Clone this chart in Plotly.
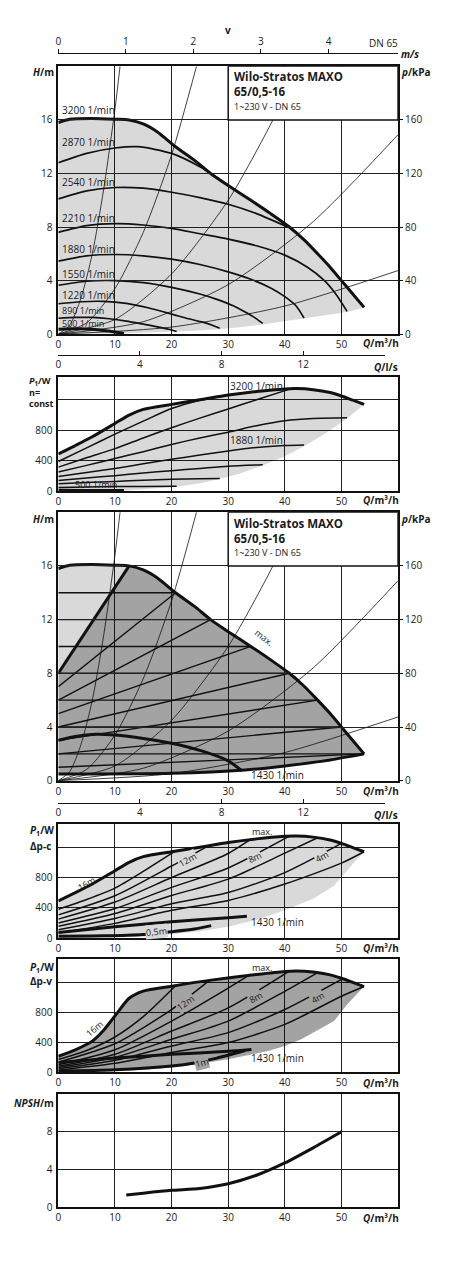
import plotly.graph_objects as go

W, HT = 453, 1280
def px(x): return x / W
def py(y): return 1 - y / HT

FONT = "Open Sans"
INK = "#1a1a1a"
FILL_L = "rgba(0,0,0,0.15)"
FILL_D = "rgba(0,0,0,0.36)"
BG_L = "rgb(217,217,217)"
BG_D = "rgb(163,163,163)"

# ---------------- tick data ----------------
Q_TICKS = [0, 10, 20, 30, 40, 50]
H_TICKS = [0, 4, 8, 12, 16]
KPA_TICKS = [0, 40, 80, 120, 160]
P_TICKS = [0, 400, 800]
P_MINOR = [1200]
V_TICKS = [0, 1, 2, 3, 4]
LS_TICKS = [0, 4, 8, 12]
LS_MINOR = [16]
NPSH_TICKS = [0, 4, 8]

# ---------------- H chart (n = const) ----------------
max_Q = [0, 2, 6, 10, 12.5, 15, 17.5, 20.7, 24, 26.9, 30, 34, 37.5, 40.8, 43.5, 45.8, 48, 50, 52, 54]
max_H = [15.8, 16.05, 16.1, 16.05, 16.0, 15.7, 15.1, 14.0, 13.0, 12.0, 11.1, 10.0, 9.0, 8.0, 7.0, 6.0, 5.0, 4.0, 3.0, 2.0]

low_Q = [54, 51, 47, 43.4, 40, 36.1, 32, 28.5, 24, 20.9, 15, 11.6, 5, 0]
low_H = [2.0, 1.65, 1.4, 1.15, 0.95, 0.72, 0.52, 0.37, 0.26, 0.19, 0.1, 0.05, 0.01, 0]

n2870_Q = [0, 5, 10, 14, 20, 25, 30]
n2870_H = [12.8, 13.5, 13.9, 14.0, 13.5, 12.5, 11.1]
n2540_Q = [0, 5, 10, 15, 20, 25, 30, 35, 40.5]
n2540_H = [10.1, 10.7, 10.95, 10.9, 10.6, 10.2, 9.7, 9.0, 8.0]
n2210_Q = [0, 5, 10, 15, 20, 25, 30, 35, 40, 44, 47, 49, 51]
n2210_H = [7.6, 8.1, 8.25, 8.15, 7.9, 7.5, 7.1, 6.6, 5.9, 5.0, 4.0, 3.0, 1.7]
n1880_Q = [0, 5, 10, 15, 20, 25, 30, 34, 37.5, 40, 42, 43.4]
n1880_H = [5.45, 5.85, 5.95, 5.85, 5.6, 5.2, 4.65, 4.1, 3.45, 2.8, 2.1, 1.2]
n1550_Q = [0, 5, 10, 15, 20, 25, 28, 31, 33, 34.8, 36.1]
n1550_H = [3.65, 3.95, 4.0, 3.85, 3.5, 3.0, 2.6, 2.1, 1.65, 1.2, 0.8]
n1220_Q = [0, 4, 8, 12, 16, 20, 23, 25.5, 27.3, 28.5]
n1220_H = [2.27, 2.42, 2.45, 2.3, 1.95, 1.5, 1.15, 0.9, 0.65, 0.44]
n890_Q = [0, 3, 6, 9, 12, 15, 17.5, 19.5, 20.9]
n890_H = [1.19, 1.25, 1.25, 1.15, 0.98, 0.75, 0.55, 0.37, 0.2]
n500_Q = [0, 2, 4, 6, 8, 10, 11.6]
n500_H = [0.36, 0.4, 0.4, 0.36, 0.28, 0.16, 0.05]

n_labels = ["3200 1/min", "2870 1/min", "2540 1/min", "2210 1/min", "1880 1/min",
            "1550 1/min", "1220 1/min", "890 1/min", "500 1/min"]
n_label_ypx = [111, 143, 183, 219, 250, 276, 297, 312, 325]
n_label_size = [10, 10, 10, 10, 10, 10, 10, 9, 9]

# system curves (same in both H charts)
sys1_Q = [0, 2, 4, 6, 8, 10, 10.9]
sys1_H = [0, 0.67, 2.7, 6.0, 10.8, 16.8, 20]
sys2_Q = [0, 5, 10, 15, 20, 24.4]
sys2_H = [0, 0.84, 3.4, 7.6, 13.4, 20]
sys3_Q = [0, 10, 20, 30, 37.9, 42.3]
sys3_H = [0, 1.1, 4.5, 10.0, 16.0, 20]
sys4_Q = [0, 15, 30, 45, 60]
sys4_H = [0, 0.93, 3.7, 8.4, 14.9]
sys5_Q = [0, 20, 40, 60]
sys5_H = [0, 0.53, 2.1, 4.75]

# ---------------- P1 chart (n = const) ----------------
pmax_Q = [0, 3, 6, 10, 12.5, 15, 20, 25, 30, 35, 40, 42, 45, 48, 50, 52, 54]
pmax_P = [490, 600, 715, 890, 1000, 1075, 1140, 1200, 1262, 1310, 1343, 1347, 1333, 1295, 1250, 1195, 1140]
plow_Q = [54, 51, 47, 43.4, 40, 36.1, 32, 28.5, 25, 20.9, 15, 11.6, 5, 0]
plow_P = [1140, 955, 750, 590, 460, 340, 230, 160, 105, 60, 25, 8, 1, 0]

p2870_Q = [0, 5, 10, 15, 20, 25, 28]
p2870_P = [391, 570, 750, 920, 1085, 1195, 1235]
p2540_Q = [0, 5, 10, 15, 20, 25, 30, 35, 41]
p2540_P = [317, 440, 560, 700, 834, 960, 1080, 1200, 1343]
p2210_Q = [0, 5, 10, 15, 20, 25, 30, 35, 40, 45, 51]
p2210_P = [252, 340, 430, 520, 615, 700, 775, 860, 925, 955, 964]
p1880_Q = [0, 5, 10, 15, 20, 25, 30, 35, 40, 43.4]
p1880_P = [195, 248, 300, 360, 420, 475, 530, 575, 600, 608]
p1550_Q = [0, 5, 10, 15, 20, 25, 30, 36.1]
p1550_P = [143, 175, 205, 240, 270, 300, 330, 348]
p1220_Q = [0, 5, 10, 15, 20, 25, 28.5]
p1220_P = [100, 115, 130, 145, 158, 166, 169]
p890_Q = [0, 5, 10, 15, 20.9]
p890_P = [50, 57, 62, 64, 65]
p500_Q = [0, 5, 11.6]
p500_P = [13, 12, 10]

# ---------------- H chart (dp-c / dp-v) ----------------
dp_H = [16, 14, 12, 10, 8, 6, 4, 2]
dp_H0 = [8, 7, 6, 5, 4, 3, 2, 1]
dp_Qend = [12.5, 20.7, 26.9, 34, 40.8, 45.8, 50, 54]
light_Q = [0, 0, 2, 12.5, 0]
light_H = [8, 15.8, 16.0, 16.0, 8]
min_Q = [54, 48, 40, 33, 20, 0]
min_H = [2.0, 1.55, 1.1, 0.8, 0.55, 0.5]
h1430_Q = [0, 3, 6.6, 10, 15, 20, 25.3, 30, 32.4]
h1430_H = [3.01, 3.3, 3.46, 3.4, 3.15, 2.79, 2.22, 1.48, 0.74]

# ---------------- P1 chart dp-c ----------------
c_low_Q = [54, 52.2, 48.7, 45, 40, 35, 30, 25, 20, 15, 10, 0]
c_low_P = [1140, 995, 693, 520, 368, 240, 151, 90, 50, 22, 8, 0]
c14_Q = [0, 5, 10, 15, 20.7]
c14_P = [381, 510, 660, 880, 1150]
c12_Q = [0, 10, 20, 26.9]
c12_P = [307, 560, 952, 1235]
c10_Q = [0, 10, 20, 30, 34]
c10_P = [251, 476, 800, 1117, 1305]
c8_Q = [0, 10, 20, 30, 40.8]
c8_P = [199, 390, 670, 926, 1345]
c6_Q = [0, 10, 20, 30, 40, 45.8]
c6_P = [156, 325, 562, 779, 1121, 1325]
c4_Q = [0, 10, 20, 30, 40, 50]
c4_P = [112, 260, 455, 601, 865, 1250]
c2_Q = [0, 10, 20, 30, 40, 50, 54]
c2_P = [69, 195, 367, 497, 714, 990, 1140]
c1430_Q = [0, 10, 20, 30, 33.3]
c1430_P = [75, 150, 215, 270, 290]
c05_Q = [0, 8, 15, 20, 24, 27]
c05_P = [25, 30, 48, 85, 120, 165]

# ---------------- P1 chart dp-v ----------------
vmax_Q = [0, 3, 6, 8, 10, 12.5, 15, 20, 27, 35, 40, 42, 45, 48, 50, 52, 54]
vmax_P = [215, 300, 415, 560, 750, 985, 1080, 1145, 1225, 1300, 1340, 1347, 1333, 1295, 1250, 1195, 1140]
v_low_Q = [54, 51, 48.7, 45, 42.9, 40, 37, 33, 30, 25, 20, 15, 10, 5, 0]
v_low_P = [1140, 901, 681, 520, 439, 350, 285, 220, 175, 115, 66, 35, 15, 4, 0]
v14_Q = [0, 5, 10, 15, 20.7]
v14_P = [171, 290, 470, 740, 1150]
v12_Q = [0, 10, 20, 26.9]
v12_P = [136, 380, 835, 1235]
v10_Q = [0, 10, 20, 30, 34]
v10_P = [101, 300, 681, 1120, 1305]
v8_Q = [0, 10, 20, 30, 40.8]
v8_P = [83, 240, 549, 857, 1345]
v6_Q = [0, 10, 20, 30, 40, 45.8]
v6_P = [65, 200, 439, 681, 1077, 1325]
v4_Q = [0, 10, 20, 30, 40, 50]
v4_P = [48, 160, 351, 528, 835, 1235]
v2_Q = [0, 10, 20, 30, 40, 50, 54]
v2_P = [30, 120, 264, 396, 637, 1011, 1140]
v1430_Q = [0, 10, 20, 30, 34.1]
v1430_P = [130, 190, 240, 280, 305]
v1_Q = [0, 10, 20, 24, 28, 33]
v1_P = [15, 35, 85, 125, 190, 290]

# ---------------- NPSH ----------------
npsh_Q = [12, 15, 20, 25, 30, 35, 40, 45, 50]
npsh_H = [1.3, 1.5, 1.8, 2.0, 2.5, 3.4, 4.7, 6.3, 8.0]

# =====================================================
fig = go.Figure()

def line(xs, ys, xa, ya, w=1.7, shape="spline", color="#111"):
    fig.add_trace(go.Scatter(x=xs, y=ys, xaxis=xa, yaxis=ya, mode="lines",
                             line=dict(color=color, width=w, shape=shape, smoothing=0.7),
                             hoverinfo="skip", showlegend=False))

def poly(xs, ys, xa, ya, color):
    fig.add_trace(go.Scatter(x=xs, y=ys, xaxis=xa, yaxis=ya, mode="lines", fill="toself",
                             fillcolor=color, line=dict(width=0), hoverinfo="skip",
                             showlegend=False))

def dummy(xa, ya):
    fig.add_trace(go.Scatter(x=[0], y=[0], xaxis=xa, yaxis=ya, mode="markers",
                             marker=dict(opacity=0, size=1), hoverinfo="skip", showlegend=False))

def systems(xa, ya):
    for q, h in [(sys1_Q, sys1_H), (sys2_Q, sys2_H), (sys3_Q, sys3_H), (sys4_Q, sys4_H), (sys5_Q, sys5_H)]:
        line(q, h, xa, ya, w=0.8)

# ---- chart 1 ----
poly(max_Q + low_Q, max_H + low_H, "x", "y", FILL_L)
systems("x", "y")
for q, h in [(n2870_Q, n2870_H), (n2540_Q, n2540_H), (n2210_Q, n2210_H), (n1880_Q, n1880_H),
             (n1550_Q, n1550_H), (n1220_Q, n1220_H), (n890_Q, n890_H)]:
    line(q, h, "x", "y", w=1.7)
line(n500_Q, n500_H, "x", "y", w=3)
line(max_Q, max_H, "x", "y", w=3)

# ---- chart 2 ----
poly(pmax_Q + plow_Q, pmax_P + plow_P, "x2", "y2", FILL_L)
for q, p in [(p2870_Q, p2870_P), (p2540_Q, p2540_P), (p2210_Q, p2210_P), (p1880_Q, p1880_P),
             (p1550_Q, p1550_P), (p1220_Q, p1220_P), (p890_Q, p890_P)]:
    line(q, p, "x2", "y2", w=1.5)
line(p500_Q, p500_P, "x2", "y2", w=3)
line(pmax_Q, pmax_P, "x2", "y2", w=3)

# ---- chart 3 ----
poly(light_Q, light_H, "x3", "y3", FILL_L)
dark_Q = [0] + max_Q[4:] + min_Q + [0]
dark_H = [8] + max_H[4:] + min_H + [8]
poly(dark_Q, dark_H, "x3", "y3", FILL_D)
systems("x3", "y3")
for i in range(1, len(dp_H)):
    line([0, dp_Qend[i]], [dp_H[i], dp_H[i]], "x3", "y3", w=1.4, shape="linear")
    line([0, dp_Qend[i]], [dp_H0[i], dp_H[i]], "x3", "y3", w=1.4, shape="linear")
line([0, dp_Qend[0]], [dp_H0[0], dp_H[0]], "x3", "y3", w=3, shape="linear")
line(min_Q, min_H, "x3", "y3", w=3)
line(h1430_Q, h1430_H, "x3", "y3", w=3)
line(max_Q, max_H, "x3", "y3", w=3)

# ---- chart 4 ----
poly(pmax_Q + c_low_Q, pmax_P + c_low_P, "x4", "y4", FILL_L)
for q, p in [(c14_Q, c14_P), (c12_Q, c12_P), (c10_Q, c10_P), (c8_Q, c8_P), (c6_Q, c6_P),
             (c4_Q, c4_P), (c2_Q, c2_P)]:
    line(q, p, "x4", "y4", w=1.5)
line(c1430_Q, c1430_P, "x4", "y4", w=3)
line(c05_Q, c05_P, "x4", "y4", w=3)
line(pmax_Q, pmax_P, "x4", "y4", w=3)

# ---- chart 5 ----
poly(vmax_Q + v_low_Q, vmax_P + v_low_P, "x5", "y5", FILL_D)
for q, p in [(v14_Q, v14_P), (v12_Q, v12_P), (v10_Q, v10_P), (v8_Q, v8_P), (v6_Q, v6_P),
             (v4_Q, v4_P), (v2_Q, v2_P)]:
    line(q, p, "x5", "y5", w=1.5)
line(v1430_Q, v1430_P, "x5", "y5", w=3)
line(v1_Q, v1_P, "x5", "y5", w=3)
line(vmax_Q, vmax_P, "x5", "y5", w=3)

# ---- chart 6 ----
line(npsh_Q, npsh_H, "x6", "y6", w=3)

# dummy traces to make helper axes render
dummy("x7", "y")
dummy("x8", "y")
dummy("x9", "y3")
dummy("x", "y7")
dummy("x3", "y8")

# =====================================================
XD = [px(55.7), px(397.7)]
tickfont = dict(family=FONT, size=10, color=INK)

def xax(anchor):
    return dict(domain=XD, range=[0, 60], tickvals=Q_TICKS, showgrid=True, gridcolor="#222",
                gridwidth=1, showline=True, linecolor="#111", linewidth=1.6, mirror=True,
                ticks="", zeroline=False, tickfont=tickfont, anchor=anchor, fixedrange=True)

def yax(dom, rng, tv, anchor, minor=None):
    d = dict(domain=dom, range=rng, tickvals=tv, showgrid=True, gridcolor="#222", gridwidth=1,
             showline=True, linecolor="#111", linewidth=1.6, mirror=True, ticks="",
             zeroline=False, tickfont=tickfont, anchor=anchor, fixedrange=True,
             ticklabelstandoff=2)
    if minor is not None:
        d["minor"] = dict(tickvals=minor, showgrid=True, gridcolor="#222", gridwidth=1, ticks="")
    return d

def lsax(pos):
    return dict(domain=[px(55.7), px(384.3)], anchor="free", position=pos, side="bottom",
                range=[0, 16], tickvals=LS_TICKS, ticks="inside", ticklen=4, tickcolor="#111",
                showline=True, linecolor="#111", linewidth=1.2, showgrid=False, zeroline=False,
                tickfont=tickfont, fixedrange=True,
                minor=dict(tickvals=LS_MINOR, ticks="inside", ticklen=4, tickcolor="#111",
                           showgrid=False))

D1 = [py(336), py(66.7)]
D2 = [py(494), py(379)]
D3 = [py(785), py(515)]
D4 = [py(943.3), py(829)]
D5 = [py(1078.3), py(964.7)]
D6 = [py(1214), py(1100)]

layout = dict(
    width=W, height=HT, margin=dict(l=0, r=0, t=0, b=0),
    paper_bgcolor="white", plot_bgcolor="rgba(0,0,0,0)",
    font=dict(family=FONT, size=10, color=INK), showlegend=False,
    xaxis=xax("y"), yaxis=yax(D1, [0, 20], H_TICKS, "x"),
    xaxis2=xax("y2"), yaxis2=yax(D2, [0, 1500], P_TICKS, "x2", P_MINOR),
    xaxis3=xax("y3"), yaxis3=yax(D3, [0, 20], H_TICKS, "x3"),
    xaxis4=xax("y4"), yaxis4=yax(D4, [0, 1500], P_TICKS, "x4", P_MINOR),
    xaxis5=xax("y5"), yaxis5=yax(D5, [0, 1500], P_TICKS, "x5", P_MINOR),
    xaxis6=xax("y6"), yaxis6=yax(D6, [0, 12], NPSH_TICKS, "x6"),
    xaxis7=dict(overlaying="x", anchor="free", position=py(53), side="top", range=[0, 5.03],
                tickvals=V_TICKS, ticks="outside", ticklen=4, tickcolor="#111", tickwidth=1,
                showline=True, linecolor="#111", linewidth=1.2, showgrid=False,
                zeroline=False, tickfont=tickfont, fixedrange=True),
    xaxis8=lsax(py(357.3)),
    xaxis9=lsax(py(807.3)),
    yaxis7=dict(overlaying="y", anchor="x", side="right", range=[0, 200], tickvals=KPA_TICKS,
                ticks="outside", ticklen=4, tickcolor="#111", showgrid=False, zeroline=False,
                showline=False, tickfont=tickfont, fixedrange=True),
    yaxis8=dict(overlaying="y3", anchor="x3", side="right", range=[0, 200], tickvals=KPA_TICKS,
                ticks="outside", ticklen=4, tickcolor="#111", showgrid=False, zeroline=False,
                showline=False, tickfont=tickfont, fixedrange=True),
)
fig.update_layout(**layout)

# title boxes
for xr, yr in [("x", "y"), ("x3", "y3")]:
    fig.add_shape(type="rect", xref=xr, yref=yr, x0=30, x1=60, y0=16, y1=20,
                  fillcolor="white", line=dict(color="#111", width=1.5), layer="above")

ann = []
def text(t, x, y, size=10, xanchor="center", angle=0, bg=None, align="center"):
    d = dict(text=t, x=px(x), y=py(y), xref="paper", yref="paper", showarrow=False,
             xanchor=xanchor, yanchor="middle", textangle=angle, borderpad=0, align=align,
             font=dict(family=FONT, size=size, color=INK))
    if bg:
        d["bgcolor"] = bg
    ann.append(d)

QLAB = "<b><i>Q</i>/m³/h</b>"
LSLAB = "<b><i>Q</i>/l/s</b>"

# chart 1
text("<b>v</b>", 227, 30)
text("DN 65", 383, 43)
text("<b><i>m/s</i></b>", 400, 54, xanchor="left")
text("<b><i>H</i>/m</b>", 52, 72, xanchor="right")
text("<b><i>p</i>/kPa</b>", 400, 72, xanchor="left")
text("<b>Wilo-Stratos MAXO</b>", 232, 77, size=11.5, xanchor="left")
text("<b>65/0,5-16</b>", 232, 92, size=11.5, xanchor="left")
text("1~230 V - DN 65", 232, 107, size=9, xanchor="left")
for lab, yy, sz in zip(n_labels, n_label_ypx, n_label_size):
    text(lab, 58, yy, size=sz, xanchor="left")
text(QLAB, 381, 345)
text(LSLAB, 386, 369)

# chart 2
text("<b><i>P</i><sub>1</sub>/W<br>n=<br>const</b>", 25, 394, size=9, xanchor="left", align="left")
text("3200 1/min", 228, 388, xanchor="left")
text("1880 1/min", 228, 442, xanchor="left")
text("500 1/min", 71, 487, size=9, xanchor="left")
text(QLAB, 381, 503)

# chart 3
text("<b><i>H</i>/m</b>", 52, 522, xanchor="right")
text("<b><i>p</i>/kPa</b>", 400, 522, xanchor="left")
text("<b>Wilo-Stratos MAXO</b>", 232, 526, size=11.5, xanchor="left")
text("<b>65/0,5-16</b>", 232, 541, size=11.5, xanchor="left")
text("1~230 V - DN 65", 232, 556, size=9, xanchor="left")
text("max.", 263, 641, size=9, angle=38)
text("1430 1/min", 249, 779, xanchor="left")
text(QLAB, 381, 795)
text(LSLAB, 386, 819)

# chart 4
text("<b><i>P</i><sub>1</sub>/W</b>", 26, 835, xanchor="left")
text("<b>Δp-c</b>", 26, 851, xanchor="left")
text("max.", 261, 836, size=9)
text("16m", 84, 888, size=9, angle=-30)
text("12m", 186, 864, size=9, angle=-28, bg=BG_L)
text("8m", 253, 862, size=9, angle=-25, bg=BG_L)
text("4m", 321, 861, size=9, angle=-28, bg=BG_L)
text("0,5m", 155, 937, size=9, angle=-5, bg=BG_L)
text("1430 1/min", 249, 927, xanchor="left")
text(QLAB, 381, 953)

# chart 5
text("<b><i>P</i><sub>1</sub>/W</b>", 26, 973, xanchor="left")
text("<b>Δp-v</b>", 26, 986, xanchor="left")
text("max.", 261, 973, size=9)
text("16m", 92, 1034, size=9, angle=-40)
text("12m", 184, 1008, size=9, angle=-35, bg=BG_D)
text("8m", 254, 1003, size=9, angle=-28, bg=BG_D)
text("4m", 317, 1003, size=9, angle=-30, bg=BG_D)
text("1m", 200, 1068, size=9, angle=-15, bg=BG_D)
text("1430 1/min", 249, 1064, xanchor="left")
text(QLAB, 381, 1089)

# chart 6
text("<b><i>NPSH</i>/m</b>", 52, 1109, xanchor="right")
text(QLAB, 381, 1225)

fig.update_layout(annotations=ann)
fig.write_html("out.html", config={"displayModeBar": False})
